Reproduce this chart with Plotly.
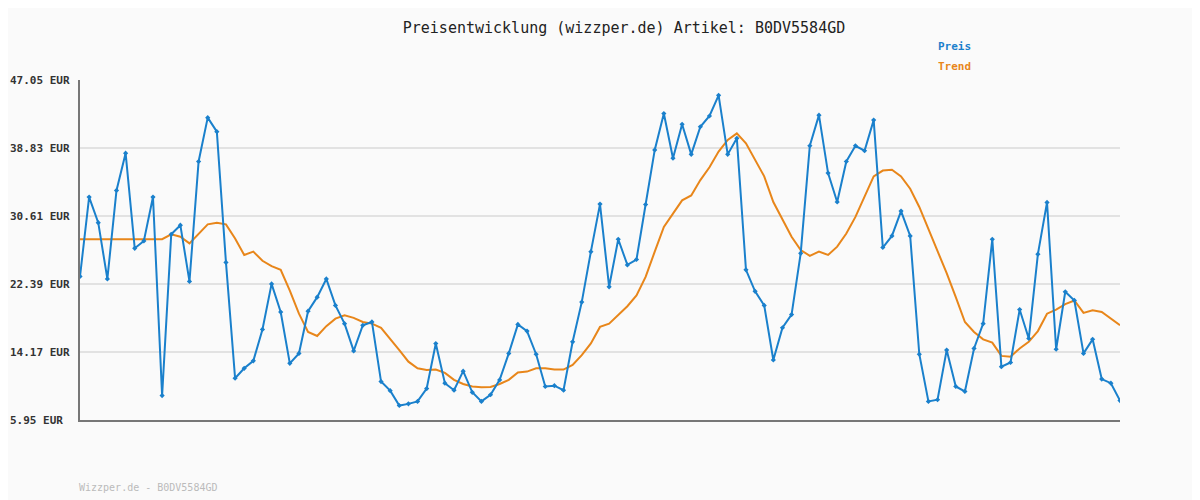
import plotly.graph_objects as go

preis = [23.3,32.9,29.8,23.0,33.7,38.2,26.7,27.6,32.9,8.9,28.4,29.5,22.7,37.2,42.5,40.8,25.0,11.0,12.2,13.1,
         16.9,22.4,19.0,12.8,14.0,19.1,20.8,23.0,19.8,17.6,14.3,17.4,17.8,10.6,9.5,7.7,7.9,8.2,9.75,15.2,
         10.4,9.55,11.85,9.3,8.2,9.0,10.8,14.0,17.5,16.7,13.9,10.0,10.1,9.55,15.4,20.2,26.3,32.05,22.05,27.8,
         24.7,25.35,32.0,38.6,43.0,37.6,41.7,38.06,41.4,42.7,45.2,38.06,40.0,24.1,21.5,19.8,13.2,17.1,18.7,26.1,
         39.1,42.8,35.8,32.3,37.2,39.1,38.5,42.2,26.8,28.2,31.2,28.2,13.9,8.2,8.4,14.4,10.0,9.4,14.6,17.6,
         27.8,12.4,12.9,19.3,15.8,26.0,32.25,14.5,21.45,20.4,14.0,15.7,10.9,10.4,8.3]
trend = [27.8]*10 + [28.4,28.1,27.3,28.5,29.6,29.8,29.6,27.9,25.9,26.3,
         25.2,24.55,24.1,21.6,18.8,16.6,16.1,17.3,18.2,18.6,18.3,17.8,17.6,17.1,15.8,14.4,13.0,12.2,12.0,12.05,
         11.65,10.8,10.3,10.0,9.9,9.95,10.3,10.8,11.7,11.8,12.2,12.2,12.05,12.05,12.6,13.8,15.2,17.2,17.6,18.6,
         19.7,21.0,23.25,26.3,29.3,30.9,32.5,33.1,34.95,36.5,38.4,39.8,40.6,39.4,37.4,35.4,32.3,30.1,28.1,26.5,
         25.8,26.3,25.9,26.9,28.5,30.5,32.9,35.4,36.1,36.2,35.4,33.9,31.7,29.1,26.3,23.7,20.8,17.8,16.6,15.7,
         15.3,13.7,13.6,14.6,15.4,16.7,18.8,19.3,19.95,20.4,18.9,19.2,19.0,18.2,17.4]
tick_vals = [5.95,14.17,22.39,30.61,38.83,47.05]
tick_text = [f"{v:.2f} EUR" for v in tick_vals]
x = list(range(len(preis)))

BLUE = "#1a80cc"
ORANGE = "#e8861a"
FONT = "DejaVu Sans Mono"
OFFY = 8
OFFX = 8
L, T, R, B = 80 - OFFX, 80 - OFFY, 80 + OFFX, 80 + OFFY
W, H = 1200, 500
pw, ph = W - L - R, H - T - B

fig = go.Figure()
fig.add_trace(go.Scatter(x=x, y=trend, mode="lines", line=dict(color=ORANGE, width=2), name="Trend"))
fig.add_trace(go.Scatter(x=x, y=preis, mode="lines+markers", line=dict(color=BLUE, width=2),
                         marker=dict(symbol="diamond", size=4, color=BLUE), name="Preis"))

def ann(text, px, py, color, size, bold=False):
    return dict(text=f"<b>{text}</b>" if bold else text, x=(px - OFFX - 2 - L) / pw,
                y=(H - B - (py - OFFY)) / ph, xref="paper", yref="paper",
                showarrow=False, xanchor="left", yanchor="middle", font=dict(color=color, size=size, family=FONT))

anns = [
    ann("Preis", 938, 47, BLUE, 11, True),
    ann("Trend", 938, 67, ORANGE, 11, True),
    ann("Wizzper.de - B0DV5584GD", 79, 487, "#bbb", 10),
]
for v, t in zip(tick_vals, tick_text):
    a = ann(t, 10, 0, "#333", 11, True)
    a["y"] = v; a["yref"] = "y"
    anns.append(a)

fig.update_layout(
    width=W, height=H, showlegend=False,
    paper_bgcolor="#fafafa", plot_bgcolor="#fafafa",
    margin=dict(l=L, r=R, t=T, b=B),
    font=dict(family=FONT, size=11, color="#333"),
    title=dict(text="Preisentwicklung (wizzper.de) Artikel: B0DV5584GD", x=(624 - OFFX) / W, xanchor="center",
               y=1 - (28 - OFFY) / H, yanchor="middle", font=dict(family=FONT, size=15, color="#222")),
    xaxis=dict(range=[0, len(preis)-1], showgrid=False, showticklabels=False, zeroline=False,
               showline=True, linecolor="#777", linewidth=2, ticks=""),
    yaxis=dict(range=[5.95, 47.05], tickvals=tick_vals, showticklabels=False, showgrid=True,
               gridcolor="#e2e2e2", gridwidth=2, zeroline=False, showline=True, linecolor="#777",
               linewidth=2, ticks=""),
    annotations=anns,
)
fig.write_html("out.html")
